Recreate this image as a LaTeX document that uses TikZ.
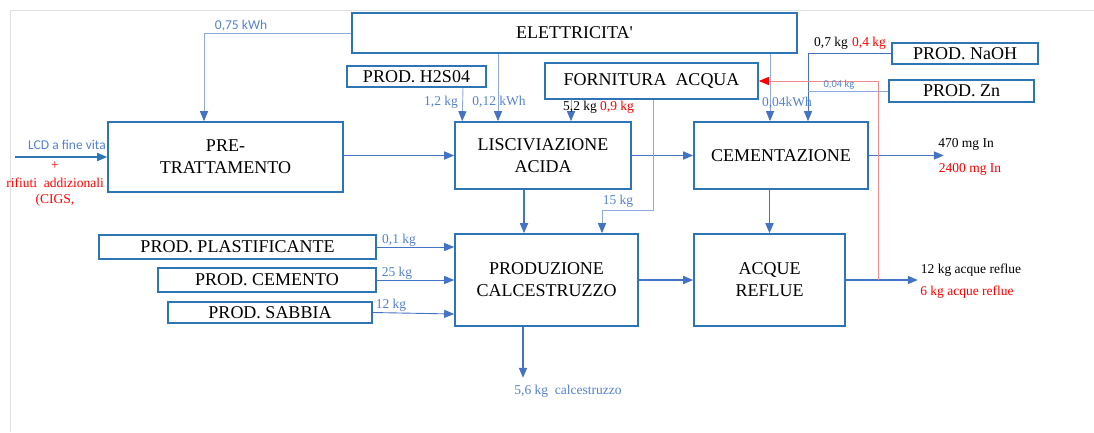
\documentclass[tikz,border=0pt]{standalone}
\usepackage{fontspec}
\setmainfont{Liberation Serif}
\newfontfamily\calibri{Carlito}
\usetikzlibrary{arrows.meta}
\usetikzlibrary{positioning}
\definecolor{Boxblue}{RGB}{46,117,182}
\definecolor{Flowblue}{RGB}{68,114,196}
\definecolor{Paleblue}{RGB}{143,170,220}
\definecolor{Labelblue}{RGB}{84,130,206}
\definecolor{Palered}{RGB}{240,140,140}

\begin{document}
\begin{tikzpicture}[
  x=1pt, y=-1pt,
  box/.style={draw=Boxblue, line width=1.6pt, align=center, inner sep=0pt,
    font=\fontsize{18}{22}\selectfont},
  flow/.style={draw=Flowblue, line width=1.6pt, -{Triangle[length=10pt,width=8pt]}},
  feed/.style={draw=Paleblue, line width=0.9pt, -{Triangle[length=10pt,width=8pt,color=Flowblue]}},
  redline/.style={draw=Palered, line width=0.9pt, -{Triangle[length=10pt,width=8pt,color=red]}},
  qty/.style={text=Labelblue, inner sep=0pt, font=\fontsize{13.5}{15}\selectfont},
  blk/.style={qty, text=black},
  rd/.style={qty, text=red},
  sqty/.style={qty, font=\calibri\fontsize{13.5}{15}\selectfont},
  ]
\useasboundingbox (0,0) rectangle (1094,432);
\draw [black!12] (10,432) -- (10,10) -- (1094,10);

% forniture
\node [box, minimum width=445pt, minimum height=40pt] (elet) at (574.5,33) {ELETTRICITA\textquotesingle};
\node [box, minimum width=139pt, minimum height=21pt] (h2so4) at (416.5,76.5) {PROD. H2S04};
\node [box, minimum width=213pt, minimum height=36pt] (acqua) at (651.5,81) {FORNITURA\ \ ACQUA};
\node [box, minimum width=146pt, minimum height=21pt] (naoh) at (965,53.5) {PROD. NaOH};
\node [box, minimum width=145pt, minimum height=22pt] (zn) at (961.5,91) {PROD. Zn};
\node [box, minimum width=277pt, minimum height=24pt] (plast) at (237.5,247) {PROD. PLASTIFICANTE};
\node [box, minimum width=218pt, minimum height=24pt] (cemento) at (267,280) {PROD. CEMENTO};
\node [box, minimum width=204pt, minimum height=21pt] (sabbia) at (270,312.5) {PROD. SABBIA};

% processi
\node [box, minimum width=235pt, minimum height=70pt] (pre) at (225.5,157) {PRE-\\TRATTAMENTO};
\node [box, minimum width=176pt, minimum height=67pt] (lisc) at (543,155.5) {LISCIVIAZIONE\\ACIDA};
\node [box, minimum width=174pt, minimum height=67pt] (cem) at (781,155.5) {CEMENTAZIONE};
\node [box, minimum width=183pt, minimum height=92pt] (prod) at (546.5,280) {PRODUZIONE\\CALCESTRUZZO};
\node [box, minimum width=151pt, minimum height=92pt] (reflue) at (769.5,280) {ACQUE\\REFLUE};

% estremi liberi
\coordinate (lcd) at ([xshift=-92pt]pre.west);
\coordinate (indio) at ([xshift=75pt]cem.east);
\coordinate (scarico) at ([xshift=72pt]reflue.east);
\coordinate (ricircolo) at ([xshift=33pt]reflue.east);
\coordinate (cls) at ([xshift=-23.5pt,yshift=-51pt]prod.south);
\coordinate (nodozn) at ([xshift=27pt]cem.north |- zn.west);

% flussi principali
\draw [flow, draw=Boxblue] (lcd) -- (pre.west);
\draw [flow] (pre.east |- lisc.west) -- (lisc.west);
\draw [flow] (lisc.east) -- (cem.west);
\draw [flow] (cem.east) -- (indio);
\draw [flow] ([xshift=-19pt]lisc.south) -- ([xshift=-22.5pt]prod.north);
\draw [flow] (cem.south -| reflue.north) -- (reflue.north);
\draw [flow] (prod.east) -- (reflue.west);
\draw [flow] (reflue.east) -- (scarico);
\draw [flow] ([xshift=-23.5pt]prod.south) -- (cls);

% ingressi
\draw [feed] (elet.west) -| ([xshift=-21.5pt]pre.north);
\draw [feed] ([xshift=46.5pt]h2so4.south) -- ([xshift=8pt]lisc.north west);
\draw [feed] ([xshift=-76.5pt]elet.south) -- ([xshift=-45pt]lisc.north);
\draw [feed] ([xshift=-80.5pt]acqua.south) -- ([xshift=28pt]lisc.north);
\draw [feed] ([xshift=1.5pt]acqua.south) -- ++(0,111) -| ([xshift=55.5pt]prod.north);
\draw [feed] ([xshift=195.5pt]elet.south) -- ([xshift=-11pt]cem.north);
\draw [feed, draw=Flowblue] (naoh.west) -| ([xshift=27pt]cem.north);
\draw [draw=Paleblue, line width=0.9pt] (zn.west) -- (nodozn);
\draw [feed, draw=Flowblue] (plast.east) -- (plast.east -| prod.west);
\draw [feed, draw=Flowblue] (cemento.east) -- (prod.west);
\draw [feed, draw=Flowblue] (sabbia.east) -- ([yshift=-1.5pt]sabbia.east -| prod.west);
\draw [redline] (ricircolo) |- (acqua.east);

% quantita'
\node [sqty] at (67,145) {LCD a fine vita};
\node [rd] at (55,166) {+};
\node [rd] at (55,183) {rifiuti\ \ addizionali};
\node [rd] at (55,200) {(CIGS,};
\node [sqty] at (241,26) {0,75 kWh};
\node [qty] at (441,102) {1,2 kg};
\node [qty] at (499,102) {0,12\ kWh};
\node [blk] at (580,107) {5,2 kg};
\node [rd] at (617,107) {0,9 kg};
\node [qty] at (618,201) {15 kg};
\node [qty] at (787,103) {0,04kWh};
\node [blk] at (831,43) {0,7 kg};
\node [rd] at (869,43) {0,4 kg};
\node [sqty, font=\calibri\fontsize{10.5}{12}\selectfont] at (839,85) {0,04 kg};
\node [blk] at (966,144) {470 mg In};
\node [rd] at (970,169) {2400 mg In};
\node [blk] at (971,270) {12 kg acque reflue};
\node [rd] at (967,292) {6 kg acque reflue};
\node [qty] at (399,240) {0,1 kg};
\node [qty] at (397,273) {25 kg};
\node [qty] at (391,305) {12 kg};
\node [qty] at (568,391) {5,6 kg\ \ calcestruzzo};
\end{tikzpicture}
\end{document}
